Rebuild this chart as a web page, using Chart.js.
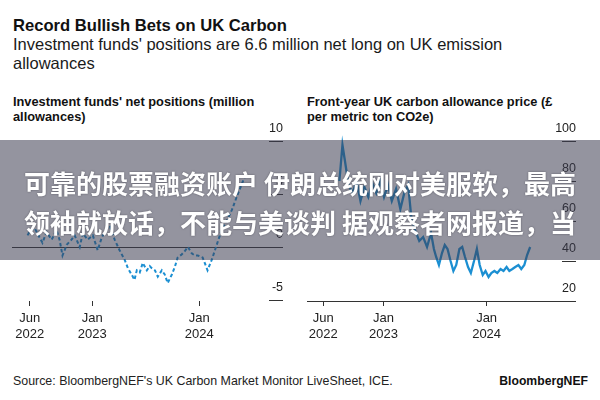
<!DOCTYPE html>
<html>
<head>
<meta charset="utf-8">
<script src="https://cdn.jsdelivr.net/npm/chart.js@4.4.1/dist/chart.umd.min.js"></script>
<style>
  html, body { margin: 0; padding: 0; background: #fff; }
  #wrap { position: relative; width: 600px; height: 400px; overflow: hidden; font-family: "Liberation Sans", Arial, sans-serif; color: #111; }
  .txt { position: absolute; white-space: nowrap; }
  #title { left: 13px; top: 16px; font-size: 16.6px; line-height: 20px; font-weight: bold; }
  #subtitle { left: 13px; top: 35px; font-size: 16.5px; line-height: 19px; color: #1a1a1a; }
  .ctitle { top: 93.5px; font-size: 12.8px; line-height: 15px; font-weight: bold; }
  #source { left: 13px; top: 374px; font-size: 12.4px; line-height: 14px; color: #222; }
  #brand { right: 12px; top: 374px; font-size: 12.2px; line-height: 14px; font-weight: bold; }
  canvas { position: absolute; }
  #band { position: absolute; left: 0; top: 140px; width: 600px; height: 120px; background: rgba(60, 60, 80, 0.55);
          box-sizing: border-box; padding-top: 22.5px; text-align: center; color: #fff;
          font-family: "Noto Sans CJK SC", sans-serif; font-weight: bold; font-size: 26px; line-height: 39px;
          text-shadow: 0 0 2px rgba(40, 40, 50, 0.6); white-space: nowrap; }
</style>
</head>
<body>
<div id="wrap">
  <div class="txt" id="title">Record Bullish Bets on UK Carbon</div>
  <div class="txt" id="subtitle">Investment funds' positions are 6.6 million net long on UK emission<br>allowances</div>
  <div class="txt ctitle" style="left:13px">Investment funds' net positions (million<br>allowances)</div>
  <div class="txt ctitle" style="left:307px">Front-year UK carbon allowance price (£<br>per metric ton CO2e)</div>
  <canvas id="posChart" width="277" height="225" style="left:9px; top:120px"></canvas>
  <canvas id="priceChart" width="275" height="225" style="left:304px; top:120px"></canvas>
  <div class="txt" id="source">Source: BloombergNEF's UK Carbon Market Monitor LiveSheet, ICE.</div>
  <div class="txt" id="brand">BloombergNEF</div>
  <div id="band">可靠的股票融资账户 伊朗总统刚对美服软，最高<br>领袖就放话，不能与美谈判 据观察者网报道，当</div>
</div>
<script>
// weekly-ish net positions, million allowances
const posDates = [
  '2022-05-24', '2022-06-03', '2022-06-17', '2022-07-04', '2022-07-14', '2022-07-28', '2022-08-15',
  '2022-09-01', '2022-09-11', '2022-09-21', '2022-10-05', '2022-10-22', '2022-11-02', '2022-11-19',
  '2022-11-29', '2022-12-16', '2023-01-03', '2023-01-20', '2023-02-03', '2023-02-16', '2023-03-01',
  '2023-03-17', '2023-04-03', '2023-04-20', '2023-05-01', '2023-05-14', '2023-05-24', '2023-06-01',
  '2023-06-11', '2023-06-21', '2023-07-05', '2023-07-15', '2023-07-22', '2023-08-02', '2023-08-12',
  '2023-08-26', '2023-09-05', '2023-09-15', '2023-09-29', '2023-10-09', '2023-10-19', '2023-11-02',
  '2023-11-12', '2023-11-23', '2023-12-06', '2023-12-17', '2023-12-27', '2024-01-13', '2024-01-30',
  '2024-02-13', '2024-03-01', '2024-03-17', '2024-04-04', '2024-04-21', '2024-05-07', '2024-05-17',
  '2024-06-04'
];
const posValues = [
  1.1, 1.6, 1.8, 0.9, 0.4, 1.4, 0.7,
  1.6, 0.7, -0.8, 0.2, 0.7, 1.1, 0.0,
  1.3, 0.7, 1.1, -0.3, 0.9, 1.6, 1.9,
  0.7, -0.3, -1.2, -2.0, -2.6, -3.1, -2.2,
  -2.4, -1.5, -2.2, -1.8, -2.0, -2.2, -2.8,
  -2.2, -2.6, -3.4, -2.6, -1.9, -1.0, -0.7,
  -0.4, 0.0, -0.6, -0.8, -0.8, -1.0, -2.2,
  -1.2, 0.3, 1.6, 2.5, 3.5, 4.7, 5.4,
  6.6
];

// front-year UKA price, GBP/t
const priceDates = [
  '2022-07-28', '2022-08-08', '2022-08-17', '2022-08-30', '2022-09-13', '2022-09-27', '2022-10-11',
  '2022-10-25', '2022-11-08', '2022-11-22', '2022-12-06', '2022-12-20', '2023-01-03', '2023-01-17',
  '2023-01-31', '2023-02-14', '2023-02-28', '2023-03-14', '2023-03-28', '2023-04-08', '2023-04-22',
  '2023-05-06', '2023-05-20', '2023-06-03', '2023-06-17', '2023-06-27', '2023-07-05', '2023-07-15',
  '2023-07-26', '2023-08-05', '2023-08-15', '2023-08-26', '2023-09-05', '2023-09-15', '2023-09-26',
  '2023-10-06', '2023-10-16', '2023-10-27', '2023-11-06', '2023-11-17', '2023-11-27', '2023-12-07',
  '2023-12-18', '2023-12-28', '2024-01-08', '2024-01-18', '2024-01-29', '2024-02-08', '2024-02-19',
  '2024-02-29', '2024-03-11', '2024-03-21', '2024-04-01', '2024-04-11', '2024-04-22', '2024-05-02',
  '2024-05-13', '2024-05-23', '2024-06-03'
];
const priceValues = [
  80, 98, 90, 78, 74, 80, 70,
  77, 72, 79, 74, 80, 72, 78,
  70, 76, 66, 74, 78, 62, 55,
  50, 52, 47, 54, 46, 42, 38,
  44, 48, 46, 40, 35, 38, 46,
  47, 42, 37, 34, 40, 46, 38,
  33, 35, 32, 34, 35, 34, 36,
  35, 37, 35, 36, 37, 38, 36,
  38, 43, 47
];

const tickDates = ['2022-06-01', '2023-01-01', '2024-01-01'];
const tickLabels = [['Jun', '2022'], ['Jan', '2023'], ['Jan', '2024']];
const posTicks = [10, 5, 0, -5];
const priceTicks = [100, 80, 60, 40, 20];

const LINE = '#1b8fd2';
const INK = '#222';

// months since Jan 2022, fractional
function toMonths(s) {
  const [y, m, d] = s.split('-').map(Number);
  const days = new Date(y, m, 0).getDate();
  return (y - 2022) * 12 + (m - 1) + (d - 1) / days;
}

const tickValues = tickDates.map(toMonths);

// labels sit above a short rule at the right edge, like the original
const rightLabels = {
  id: 'rightLabels',
  beforeDatasetsDraw(chart, args, opts) {
    const { ctx, chartArea } = chart;
    const y = chart.scales.y;
    ctx.save();
    ctx.strokeStyle = '#333';
    ctx.lineWidth = 1;
    ctx.fillStyle = INK;
    ctx.font = '12.5px "Liberation Sans", Arial, sans-serif';
    ctx.textAlign = 'right';
    ctx.textBaseline = 'middle';
    opts.values.forEach(v => {
      const py = Math.round(y.getPixelForValue(v)) + 0.5;
      const x0 = v === opts.fullLine ? chartArea.left : chartArea.right - 14;
      ctx.beginPath();
      ctx.moveTo(x0, py);
      ctx.lineTo(chartArea.right, py);
      ctx.stroke();
      ctx.fillText(String(v), chartArea.right, py - 12.5);
    });
    ctx.restore();
  }
};

function xScale(min, max) {
  return {
    type: 'linear',
    min: min,
    max: max,
    afterBuildTicks: scale => { scale.ticks = tickValues.map(v => ({ value: v })); },
    afterFit: scale => { scale.height = 44; scale.paddingLeft = 0; scale.paddingRight = 0; },
    grid: { drawOnChartArea: false, drawTicks: true, tickLength: 5, tickColor: '#333', tickWidth: 1 },
    border: { display: false },
    ticks: {
      autoSkip: false,
      maxRotation: 0,
      padding: 5,
      color: INK,
      font: { family: '"Liberation Sans", Arial, sans-serif', size: 13, lineHeight: 1.2 },
      callback: (value, index) => tickLabels[index]
    }
  };
}

function makeChart(id, dates, values, yMin, yMax, xMin, xMax, ticks, fullLine, dashed) {
  return new Chart(document.getElementById(id), {
    type: 'line',
    data: {
      datasets: [{
        data: dates.map((d, i) => ({ x: toMonths(d), y: values[i] })),
        borderColor: LINE,
        borderWidth: dashed ? 2 : 2.3,
        borderDash: dashed ? [3.5, 2.5] : [],
        pointRadius: 0,
        tension: 0,
        fill: false
      }]
    },
    options: {
      responsive: false,
      animation: false,
      devicePixelRatio: 1,
      layout: { padding: { left: 3, right: 3, top: 0, bottom: 0 } },
      plugins: {
        legend: { display: false },
        tooltip: { enabled: false },
        rightLabels: { values: ticks, fullLine: fullLine }
      },
      scales: {
        x: xScale(xMin, xMax),
        y: { display: false, min: yMin, max: yMax }
      }
    },
    plugins: [rightLabels]
  });
}

makeChart('posChart', posDates, posValues, -5.1, 12, 3, 33.4, posTicks, 0, true);
makeChart('priceChart', priceDates, priceValues, 20, 110.5, 3.1, 34.4, priceTicks, 20, false);
</script>
</body>
</html>
